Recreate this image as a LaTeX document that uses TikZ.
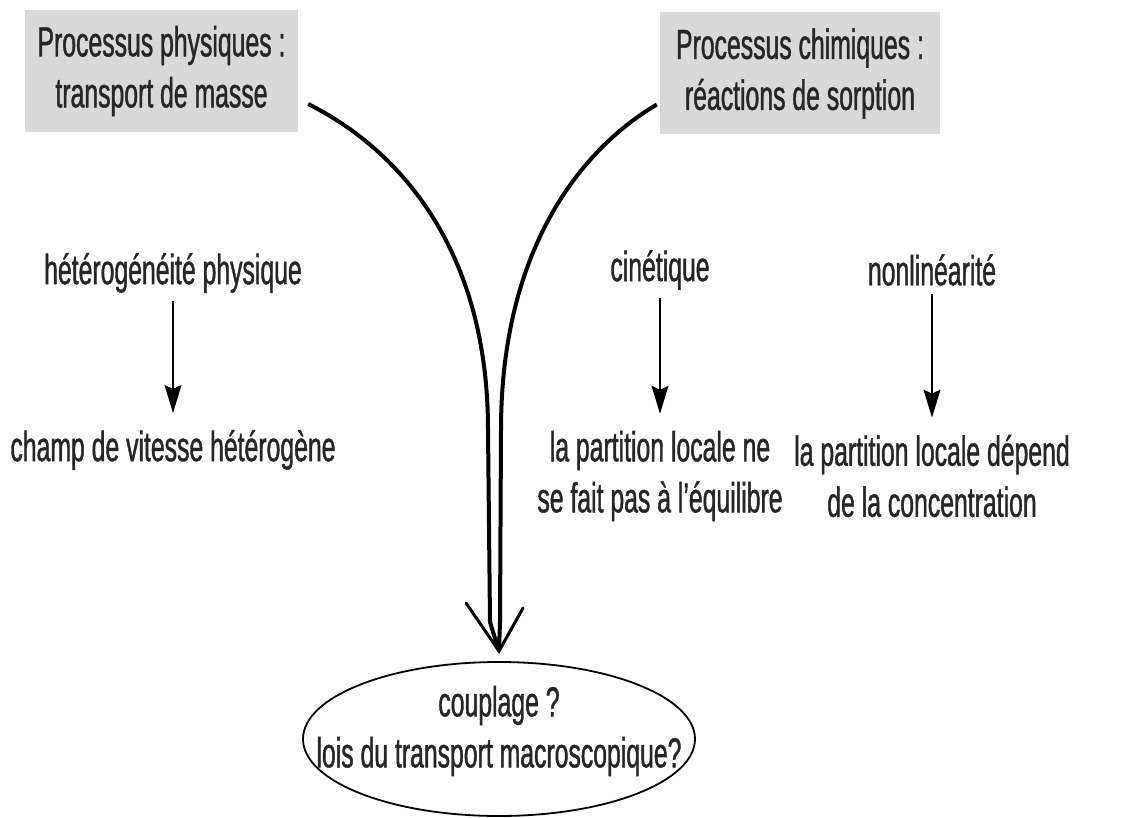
\documentclass[tikz,border=0pt]{standalone}
\usepackage{fontspec}
\setmainfont[FakeStretch=0.59, FakeBold=1.0]{Liberation Sans}
\usepackage{tikz}
\usetikzlibrary{arrows.meta,shapes.geometric}

\begin{document}
\begin{tikzpicture}[x=1pt, y=-1pt,
    every node/.style={font=\fontsize{42}{51}\selectfont, align=center,
      text=black!85, inner sep=4pt},
    procbox/.style={fill=black!15, minimum width=273pt, minimum height=122pt},
    flow/.style={line width=1.3pt, shorten <=4pt, shorten >=13pt,
      -{Stealth[length=28pt, width=17pt, inset=4pt]}},
    branch/.style={line width=4pt},
    vhead/.style={line width=3pt, line cap=round, line join=miter}]
    \useasboundingbox (0,0) rectangle (1128,818);

    \node[procbox] (phys) at (161.5,71) {Processus physiques :\\transport de masse};
    \node[procbox, minimum width=280pt] (chim) at (800,73.5) {Processus chimiques :\\réactions de sorption};

    \node (hetero) at (173,273) {hétérogénéité physique};
    \node (vitesse) at (173,450) {champ de vitesse hétérogène};
    \node (cinet) at (660,270) {cinétique};
    \node (partA) at (660,476) {la partition locale ne\\se fait pas à l'équilibre};
    \node (nonlin) at (932,270) {nonlinéarité};
    \node (partB) at (932,476) {la partition locale dépend\\de la concentration};

    \node[ellipse, draw, line width=1.8pt, minimum width=392pt, minimum height=154pt,
      inner sep=0pt] (coupl) at (499,739) {};
    \node (question) at ([yshift=8pt]coupl.center) {couplage ?\\lois du transport macroscopique?};

    \path[flow] (hetero) edge (vitesse)
                (cinet) edge (partA)
                (nonlin) edge (partB);

    \coordinate (tip) at ([yshift=10pt]coupl.north);
    \draw[branch] ([xshift=10pt,yshift=-33pt]phys.east)
      .. controls (400,150) and (488,250) .. (488,430) -- (490,622) -- (tip);
    \draw[branch] ([xshift=-3pt,yshift=-31pt]chim.west)
      .. controls (580,150) and (501,250) .. (501,430) -- (500,622) -- (tip);
    \draw[vhead] (466,603) -- (tip) -- (523,608);
\end{tikzpicture}
\end{document}
